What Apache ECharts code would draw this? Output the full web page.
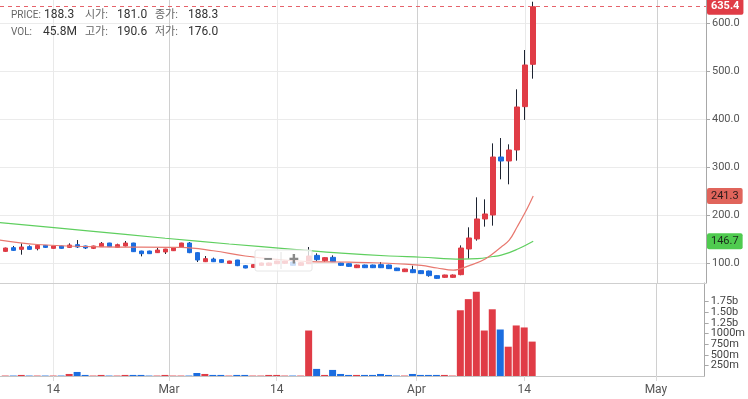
<!DOCTYPE html>
<html>
<head>
<meta charset="utf-8">
<script src="https://cdn.jsdelivr.net/npm/echarts@6/dist/echarts.min.js"></script>
<style>
html,body{margin:0;padding:0;background:#fff;}
#chart{width:748px;height:399px;}
</style>
</head>
<body>
<div id="chart"></div>
<script>
// 일봉 (2021)
var dates = ['02-08','02-09','02-10','02-11','02-12','02-13','02-14','02-15','02-16','02-17',
    '02-18','02-19','02-20','02-21','02-22','02-23','02-24','02-25','02-26','02-27',
    '02-28','03-01','03-02','03-03','03-04','03-05','03-06','03-07','03-08','03-09',
    '03-10','03-11','03-12','03-13','03-14','03-15','03-16','03-17','03-18','03-19',
    '03-20','03-21','03-22','03-23','03-24','03-25','03-26','03-27','03-28','03-29',
    '03-30','03-31','04-01','04-02','04-03','04-04','04-05','04-06','04-07','04-08',
    '04-09','04-10','04-11','04-12','04-13','04-14','04-15'];
var opens = [125.7,133.4,129.9,135.5,131.3,138.2,132,136.9,134,139.6,
    136.9,132,135.5,143.1,134,136.9,143.1,126.4,126.4,123,
    124.4,127.1,134.1,143.1,123,104.2,109.8,108.4,100.8,107.7,
    95.9,92.4,96.6,96.6,100,100.8,103.5,96.6,100,117.4,
    106.3,113.3,101.5,100,91.7,97.3,97.3,98,97.3,91,
    83.4,87.6,85.5,84.8,75.1,71.6,71.6,77.2,130.7,151.6,
    193.2,201.5,322.3,314,336.9,427.2,515.4];
var closes = [132.7,127.8,134.8,129.9,138.2,134,136.9,132,138.9,134.8,
    132.7,136.9,142.4,135.5,139.6,143.1,125.1,120.9,120.9,128.5,
    130.6,133.4,143.1,123,107.7,110.5,104.2,102.8,105.6,95.9,
    91,98,101.5,101.5,105.6,105.6,96.6,102,116,108.4,
    112.6,104.2,96.6,94.5,97.3,91.7,91.7,91.7,89.7,85.5,
    89,81.3,79.3,75.1,69.5,76.5,76.5,132.7,153.6,193.2,
    203.6,322.3,314,336.9,426.5,514,635.4];
var lows = [125,127,118.8,129,127.8,133,131.5,131.5,133,132.7,
    130.6,130.6,135,135,133.5,136,124.5,115.3,120.5,122.5,
    120.2,126.5,133.5,122,103.5,103.5,103.5,102,100,95,
    90.5,91.5,96,96,99.5,100,96,96,99.5,106,
    104,103.5,96,94,91,91,91,91,89,85,
    83,80.5,78.5,73,69,71,71,76,110.6,148,
    177.2,179.3,275.8,265.4,314.7,399.5,485.5];
var highs = [133.5,137,142.4,138.2,139,139,137.5,137.5,142.4,149.3,
    137.5,137.5,145.2,143.5,141.7,147.3,143.5,127,127,132.7,
    131,134,143.5,145.2,123.5,116,112.6,109,106,108,
    96.5,98.5,102,102,106,106,104,102.5,134.8,121.6,
    113,117.4,102,100.5,98,98,98,103.5,98,91.5,
    89.5,95.9,86,85.5,75.5,77,77.5,138.2,175.8,238.3,
    234.1,350.7,361.8,348.7,463.3,545.2,645.8];
var volumes = [10,10,25,10,10,10,10,10,48,95,
    25,10,25,10,10,25,25,25,10,10,
    25,10,10,10,71,48,25,25,10,25,
    25,10,10,25,25,10,10,10,1071,167,
    25,143,48,25,25,25,25,48,25,10,
    10,48,25,25,25,25,10,1548,1810,1984,
    1071,1571,1095,690,1190,1143,810]; // 백만

// 이동평균선
var maShortDates = ['02-07','02-12','02-20','03-02','03-06','03-10','03-14','03-18','03-22','03-26',
    '03-30','04-01','04-03','04-05','04-07','04-09','04-11','04-12','04-13','04-14','04-15'];
var maShortValues = [150,140,135,134,127,116,109,104.5,103.5,102,99,96.6,91,86.5,96,110,135,149,177,207,241.3];
var maLongDates = ['02-07','02-18','02-28','03-08','03-16','03-22','03-28','04-01','04-06','04-08',
    '04-10','04-11','04-12','04-13','04-14','04-15'];
var maLongValues = [186,169,153,141,130,122,116,113.5,109.5,110.5,115,118,123,130,138,146.7];

var tickDates = ['02-14','03-01','03-14','04-01','04-14','05-01'];
var tickLabels = ['14','Mar','14','Apr','14','May'];
var priceTicks = [100,200,300,400,500,600];
var volTicks = [250,500,750,1000,1250,1500,1750];

var UP = '#e03c46', DOWN = '#1b6de0', WICK = '#1d2331';

function dayIdx(s){
    var p = s.split('-');
    return (Date.UTC(2021, +p[0]-1, +p[1]) - Date.UTC(2021, 1, 14)) / 864e5;
}

var tickVals = tickDates.map(function(d, i){
    // 월 경계선은 반나절 앞에 그려짐
    return isNaN(+tickLabels[i]) ? dayIdx(d) - 0.5 : dayIdx(d);
});

var wickData = [], bodyData = [], volData = [];
for (var i = 0; i < dates.length; i++) {
    var x = dayIdx(dates[i]);
    wickData.push([x, opens[i], closes[i], lows[i], highs[i]]);
    bodyData.push([x, opens[i], closes[i], Math.min(opens[i], closes[i]), Math.max(opens[i], closes[i])]);
    volData.push({value: [x, volumes[i] * 1e6], itemStyle: {color: closes[i] >= opens[i] ? UP : DOWN}});
}
var maShort = maShortDates.map(function(d, i){ return [dayIdx(d), maShortValues[i]]; });
var maLong = maLongDates.map(function(d, i){ return [dayIdx(d), maLongValues[i]]; });

// 거래량 눈금: 글자가 겹쳐 숨겨지지 않도록 두 축에 번갈아 배치
var volTicksA = [], volTicksB = [];
volTicks.forEach(function(v, i){ (i % 2 ? volTicksB : volTicksA).push(v * 1e6); });

var FONT = 'Roboto, "Noto Sans CJK KR", sans-serif';

var xCommon = {
    type: 'value', min: -6.66, max: 81.6,
    splitLine: {show: true, lineStyle: {color: ['#e9e9e9', '#d0d0d0'], width: 1}},
    axisTick: {customValues: tickVals}
};

function tag(bg, fg, val, bold){
    return {
        position: 'end', distance: 1,
        formatter: val.toFixed(1),
        backgroundColor: bg, color: fg,
        fontFamily: FONT, fontSize: 11, fontWeight: bold ? 'bold' : 'normal',
        padding: [3, 4, 2, 4], borderRadius: 2
    };
}

function volAxis(ticks, showLine){
    return {
        gridIndex: 1, type: 'value', position: 'right', min: 0, max: 2.19e9,
        axisLine: {show: showLine, onZero: false, lineStyle: {color: '#a8a8a8'}},
        axisTick: {show: true, length: 4, customValues: ticks, lineStyle: {color: '#a8a8a8'}},
        axisLabel: {customValues: ticks, color: '#444', fontSize: 11, margin: 6,
            showMinLabel: true, showMaxLabel: true,
            formatter: function(v){
                return v > 1.1e9 ? (v / 1e9).toFixed(2) + 'b' : Math.round(v / 1e6) + 'm';
            }},
        splitLine: {show: false}
    };
}

var lastClose = closes[closes.length - 1];
var lastShort = maShortValues[maShortValues.length - 1];
var lastLong = maLongValues[maLongValues.length - 1];

var option = {
    animation: false,
    backgroundColor: '#fff',
    textStyle: {fontFamily: FONT},
    grid: [
        {left: 0, right: 42, top: 0, height: 283},
        {left: 0, right: 42, top: 283, height: 93}
    ],
    xAxis: [
        Object.assign({}, xCommon, {
            gridIndex: 0,
            axisLine: {show: true, onZero: false, lineStyle: {color: '#cfcfcf'}},
            axisTick: {show: false, customValues: tickVals},
            axisLabel: {show: false}
        }),
        Object.assign({}, xCommon, {
            gridIndex: 1,
            axisLine: {show: true, onZero: false, lineStyle: {color: '#c4c4c4'}},
            axisTick: {show: true, length: 5, customValues: tickVals, lineStyle: {color: '#d8d8d8'}},
            axisLabel: {
                customValues: tickVals, color: '#555', fontSize: 12, margin: 8,
                showMinLabel: true, showMaxLabel: true,
                formatter: function(v){
                    var k = tickVals.indexOf(v);
                    return k >= 0 ? tickLabels[k] : '';
                }
            }
        })
    ],
    yAxis: [
        {
            gridIndex: 0, type: 'value', position: 'right', min: 59.8, max: 649.4,
            axisLine: {show: true, onZero: false, lineStyle: {color: '#a8a8a8'}},
            axisTick: {show: true, length: 4, customValues: priceTicks, lineStyle: {color: '#a8a8a8'}},
            axisLabel: {customValues: priceTicks, color: '#555', fontSize: 11, margin: 6,
                showMinLabel: true, showMaxLabel: true,
                formatter: function(v){ return v.toFixed(1); }},
            splitLine: {show: true, lineStyle: {color: '#ebebeb'}}
        },
        volAxis(volTicksA, true),
        volAxis(volTicksB, false)
    ],
    series: [
        {
            name: 'MA long', type: 'line', xAxisIndex: 0, yAxisIndex: 0,
            data: maLong, smooth: 0.4, symbol: 'none',
            lineStyle: {color: '#5fcf5f', width: 1.2},
            markLine: {
                silent: true, symbol: 'none',
                lineStyle: {color: 'rgba(0,0,0,0)', width: 0},
                label: tag('#4fcb4f', '#1b2b1b', lastLong),
                data: [{yAxis: lastLong}]
            }
        },
        {
            name: 'MA short', type: 'line', xAxisIndex: 0, yAxisIndex: 0,
            data: maShort, smooth: 0.4, symbol: 'none',
            lineStyle: {color: '#e8786f', width: 1.2},
            markLine: {
                silent: true, symbol: 'none',
                lineStyle: {color: 'rgba(0,0,0,0)', width: 0},
                label: tag('#e0645b', '#2a1a1a', lastShort),
                data: [{yAxis: lastShort}]
            }
        },
        {
            name: 'wick', type: 'candlestick', xAxisIndex: 0, yAxisIndex: 0,
            data: wickData, encode: {x: 0, y: [1, 2, 3, 4]}, barWidth: 1,
            itemStyle: {color: WICK, color0: WICK, borderColor: WICK, borderColor0: WICK, borderWidth: 1}
        },
        {
            name: 'body', type: 'candlestick', xAxisIndex: 0, yAxisIndex: 0,
            data: bodyData, encode: {x: 0, y: [1, 2, 3, 4]}, barWidth: 5,
            itemStyle: {color: UP, color0: DOWN, borderColor: UP, borderColor0: DOWN, borderWidth: 1},
            markLine: {
                silent: true, symbol: 'none',
                lineStyle: {color: '#e6636b', type: [4, 4], width: 1},
                label: tag('#e03c46', '#fff', lastClose, true),
                data: [{yAxis: lastClose}]
            }
        },
        {
            name: 'volume', type: 'bar', xAxisIndex: 1, yAxisIndex: 1,
            data: volData, barWidth: 7
        }
    ],
    graphic: [
        // 상단 정보
        {type: 'text', z: 100, style: {x: 11, y: 15, text: 'PRICE:', fill: '#666', font: '10px ' + FONT, verticalAlign: 'middle'}},
        {type: 'text', z: 100, style: {x: 44, y: 15, text: '188.3', fill: '#333', font: '12px ' + FONT, verticalAlign: 'middle'}},
        {type: 'text', z: 100, style: {x: 85, y: 15, text: '시가:', fill: '#666', font: '11px ' + FONT, verticalAlign: 'middle'}},
        {type: 'text', z: 100, style: {x: 117, y: 15, text: '181.0', fill: '#333', font: '12px ' + FONT, verticalAlign: 'middle'}},
        {type: 'text', z: 100, style: {x: 155, y: 15, text: '종가:', fill: '#666', font: '11px ' + FONT, verticalAlign: 'middle'}},
        {type: 'text', z: 100, style: {x: 188, y: 15, text: '188.3', fill: '#333', font: '12px ' + FONT, verticalAlign: 'middle'}},
        {type: 'text', z: 100, style: {x: 11, y: 32, text: 'VOL:', fill: '#666', font: '10px ' + FONT, verticalAlign: 'middle'}},
        {type: 'text', z: 100, style: {x: 43, y: 32, text: '45.8M', fill: '#333', font: '12px ' + FONT, verticalAlign: 'middle'}},
        {type: 'text', z: 100, style: {x: 85, y: 32, text: '고가:', fill: '#666', font: '11px ' + FONT, verticalAlign: 'middle'}},
        {type: 'text', z: 100, style: {x: 117, y: 32, text: '190.6', fill: '#333', font: '12px ' + FONT, verticalAlign: 'middle'}},
        {type: 'text', z: 100, style: {x: 155, y: 32, text: '저가:', fill: '#666', font: '11px ' + FONT, verticalAlign: 'middle'}},
        {type: 'text', z: 100, style: {x: 188, y: 32, text: '176.0', fill: '#333', font: '12px ' + FONT, verticalAlign: 'middle'}},
        // 줌 버튼
        {type: 'rect', z: 100, shape: {x: 255, y: 250, width: 57, height: 21, r: 2},
            style: {fill: 'rgba(255,255,255,0.78)', stroke: '#e6e6e6', lineWidth: 1}},
        {type: 'line', z: 101, shape: {x1: 281, y1: 252, x2: 281, y2: 269}, style: {stroke: '#e2e2e2', lineWidth: 1}},
        {type: 'text', z: 101, style: {x: 268, y: 260, text: '−', fill: '#8a8a8a', font: 'bold 18px ' + FONT, align: 'center', verticalAlign: 'middle'}},
        {type: 'text', z: 101, style: {x: 294, y: 260, text: '+', fill: '#8a8a8a', font: 'bold 18px ' + FONT, align: 'center', verticalAlign: 'middle'}}
    ]
};

var chart = echarts.init(document.getElementById('chart'));
chart.setOption(option);
window.addEventListener('resize', function(){
    chart.resize();
});
</script>
</body>
</html>
